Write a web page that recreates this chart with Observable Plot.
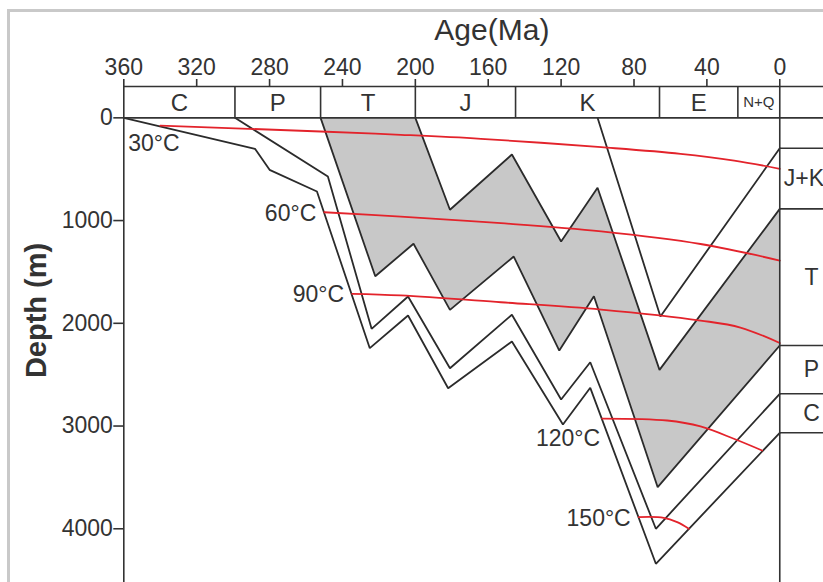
<!DOCTYPE html>
<html>
<head>
<meta charset="utf-8">
<script src="https://cdn.jsdelivr.net/npm/d3@7"></script>
<script src="https://cdn.jsdelivr.net/npm/@observablehq/plot@0.6"></script>
<style>
  html, body { margin: 0; padding: 0; background: #fff; overflow: hidden; }
  #wrap { position: relative; width: 823px; height: 582px; overflow: hidden; }
  #edge { position: absolute; left: 7px; top: 9px; right: -20px; bottom: -20px;
          border-top: 3px solid #c9c9c9; border-left: 3px solid #c9c9c9; }
  #chart { position: absolute; left: 0; top: 0; }
</style>
</head>
<body>
<div id="wrap"><div id="edge"></div><div id="chart"></div></div>
<script>
// Geologic periods along the top strip (boundaries in Ma)
const periods = ["C", "P", "T", "J", "K", "E", "N+Q"];
const periodBounds = [360, 299, 252, 200, 145, 66, 23, 0];

// Axis ticks
const ageTicks = [360, 320, 280, 240, 200, 160, 120, 80, 40, 0];
const depthTicks = [0, 1000, 2000, 3000, 4000];

// Burial history of each horizon: [age (Ma), depth (m)]
const baseC = [[360, 0], [288, 302], [280, 506], [254, 717], [225, 2242], [204, 1924],
               [182, 2632], [147, 2177], [119, 2985], [104, 2628], [68, 4341], [0, 3066]];
const baseP = [[299, 0], [248, 571], [224, 2054], [204, 1739], [181, 2437], [147, 1917],
               [120, 2742], [104, 2379], [68, 4000], [0, 2686]];
const baseT = [[252, 0], [222, 1542], [201, 1226], [181, 1869], [146, 1350], [121, 2265],
               [102, 1736], [67, 3595], [0, 2216]];
const baseJ = [[200, 0], [181, 895], [147, 357], [120, 1204], [100, 681], [66, 2453], [0, 886]];
const topK = [[100, 0], [65.5, 1934], [0, 296]];

// Isotherms: [age (Ma), depth (m)]
const isoTemps = [30, 60, 90, 120, 150];
const iso30 = [[340, 75], [252, 133], [208, 165], [164, 204], [98, 286], [54.5, 350], [25, 416], [0, 496]];
const iso60 = [[250, 919], [208, 962], [153, 1025], [98, 1105], [43.5, 1228], [0, 1389]];
const iso90 = [[234.7, 1713], [208, 1729], [153, 1795], [98, 1866], [43.5, 1973], [21.6, 2041], [0, 2192]];
const iso120 = [[97.5, 2927], [61.8, 2946], [43.5, 3004], [25.2, 3124], [9.7, 3238]];
const iso150 = [[77.4, 3887], [63.7, 3893], [56.3, 3936], [49.9, 4000]];

// Present-day stratigraphic column at the right edge
const columnUnits = ["J+K", "T", "P", "C"];

// ---------------------------------------------------------------
const horizons = [baseC, baseP, baseT, baseJ, topK];
const isotherms = [iso30, iso60, iso90, iso120, iso150];
const headerTop = -305;            // depth-scale position of the top strip edge
const columnRight = -24;           // age-scale right edge of the column

// Present-day depths of the horizon tops, upper to lower
const columnDepths = [topK, baseJ, baseT, baseP, baseC].map(h => h[h.length - 1][1]);
const columnLabels = columnUnits.map((u, i) => ({
  unit: u, depth: (columnDepths[i] + columnDepths[i + 1]) / 2
}));

// Triassic interval shaded between its base and top
const triassic = baseT.concat(baseJ.slice().reverse());

const periodLabels = periods.map((p, i) => ({
  name: p, age: (periodBounds[i] + periodBounds[i + 1]) / 2
}));

const ink = "#333";
const lineInk = "#2b2b2b";
const red = "#e3232b";
const font = "'Liberation Sans', Arial, sans-serif";
const xy = {x: d => d[0], y: d => d[1]};

const chart = Plot.plot({
  width: 823,
  height: 582,
  marginLeft: 123.3,
  marginRight: 0,
  marginTop: 86,
  marginBottom: 0,
  style: {fontFamily: font, color: ink, background: "transparent", overflow: "visible"},
  x: {domain: [360, columnRight]},
  y: {domain: [headerTop, 4523], reverse: true},
  marks: [
    // shaded Triassic unit
    Plot.line(triassic, {...xy, fill: "#c8c8c8", stroke: "none"}),

    // horizon burial paths
    ...horizons.map(h => Plot.line(h, {...xy, stroke: lineInk, strokeWidth: 1.8, strokeLinejoin: "miter"})),

    // isotherms
    ...isotherms.map(h => Plot.line(h, {...xy, stroke: red, strokeWidth: 1.8, curve: "catmull-rom"})),

    // isotherm labels
    Plot.text([iso30[0]], {...xy, text: () => `${isoTemps[0]}°C`, textAnchor: "start",
      dx: -32, dy: 18.5, fontSize: 23, fill: ink}),
    Plot.text([1, 2, 4], {x: i => isotherms[i][0][0], y: i => isotherms[i][0][1],
      text: i => `${isoTemps[i]}°C`, textAnchor: "end", dx: -8, dy: 1, fontSize: 23, fill: ink}),
    Plot.text([3], {x: i => isotherms[i][0][0], y: i => isotherms[i][0][1],
      text: i => `${isoTemps[i]}°C`, textAnchor: "end", dx: -2, dy: 20, fontSize: 23, fill: ink}),

    // top period strip
    Plot.ruleY([headerTop, 0], {stroke: ink, strokeWidth: 1.6}),
    Plot.ruleX(periodBounds.slice(1, -1), {y1: headerTop, y2: 0, stroke: ink, strokeWidth: 1.6}),
    Plot.text(periodLabels.slice(0, -1), {x: "age", y: () => headerTop / 2, text: "name",
      fontSize: 24, dy: 1, fill: ink}),
    Plot.text(periodLabels.slice(-1), {x: "age", y: () => headerTop / 2, text: "name",
      fontSize: 15, fill: ink}),

    // frame edges at 360 Ma and present
    Plot.ruleX([360, 0], {stroke: ink, strokeWidth: 1.6}),

    // present-day column
    Plot.ruleY(columnDepths, {x1: 0, x2: columnRight, stroke: ink, strokeWidth: 1.6}),
    Plot.text(columnLabels.slice(0, 1), {x: () => 0, y: "depth", text: "unit",
      textAnchor: "start", dx: 4, fontSize: 23, fill: ink}),
    Plot.text(columnLabels.slice(1), {x: () => columnRight, y: "depth", text: "unit",
      dx: -12, fontSize: 23, fill: ink}),

    // axes
    Plot.axisX({anchor: "top", ticks: ageTicks, tickFormat: "d", tickSize: 8, tickPadding: 4,
      fontSize: 23, label: null, stroke: ink, strokeWidth: 1.6}),
    Plot.axisY({anchor: "left", ticks: depthTicks, tickFormat: "d", tickSize: 10, tickPadding: 1,
      fontSize: 23, label: null, stroke: ink, strokeWidth: 1.6}),

    // axis titles
    Plot.text(["Age(Ma)"], {x: () => 158, frameAnchor: "top", lineAnchor: "middle", dy: -56,
      fontSize: 30, fill: ink}),
    Plot.text(["Depth (m)"], {y: () => 1875, frameAnchor: "left", textAnchor: "middle",
      lineAnchor: "middle", dx: -87, rotate: -90, fontSize: 29, fontWeight: "bold", fill: ink})
  ]
});

document.getElementById("chart").appendChild(chart);
</script>
</body>
</html>
